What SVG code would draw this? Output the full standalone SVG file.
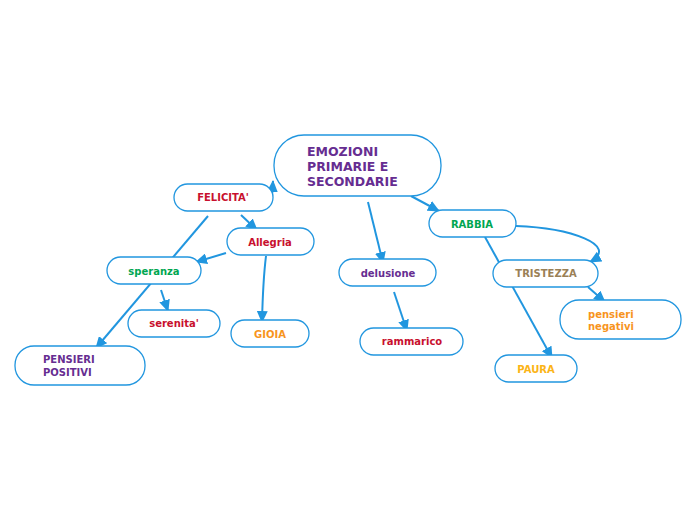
<svg xmlns="http://www.w3.org/2000/svg" width="696" height="520" viewBox="0 0 696 520">
<defs>
<style>
.n{fill:#fff;stroke:#2196df;stroke-width:1.3}
.c{fill:none;stroke:#2196df;stroke-width:2}
text{font-family:"DejaVu Sans",Verdana,sans-serif;font-weight:bold;font-size:10px}
.m{text-anchor:middle}
.big{font-size:12.5px}
</style>
<marker id="a" markerUnits="userSpaceOnUse" markerWidth="13" markerHeight="11" refX="11" refY="5.5" orient="auto">
<path d="M0,0 L12,5.5 L0,11 Z" fill="#2196df"/>
</marker>
</defs>
<rect width="696" height="520" fill="#fff"/>
<g id="connectors">
<path class="c" d="M272,197 L273,181" marker-end="url(#a)"/>
<path class="c" d="M241,215 L257,230" marker-end="url(#a)"/>
<path class="c" d="M208,216 L96,348" marker-end="url(#a)"/>
<path class="c" d="M226,253 L196,262" marker-end="url(#a)"/>
<path class="c" d="M161,290 L168,311" marker-end="url(#a)"/>
<path class="c" d="M266,256 Q263,280 262,322" marker-end="url(#a)"/>
<path class="c" d="M368,202 L383,263" marker-end="url(#a)"/>
<path class="c" d="M394,292 L407,331" marker-end="url(#a)"/>
<path class="c" d="M411,196 L439,211" marker-end="url(#a)"/>
<path class="c" d="M485,237 L552,358" marker-end="url(#a)"/>
<path class="c" d="M516,226 C570,228 620,245 590,262" marker-end="url(#a)"/>
<path class="c" d="M588,287 L605,302" marker-end="url(#a)"/>
</g>
<g id="emozioni"><rect class="n" x="274" y="135" width="167" height="61" rx="30"/>
<text class="big" x="307" y="156" fill="#662d91">EMOZIONI</text>
<text class="big" x="307" y="171" fill="#662d91">PRIMARIE E</text>
<text class="big" x="307" y="186" fill="#662d91">SECONDARIE</text></g>
<g id="felicita"><rect class="n" x="174" y="184" width="99" height="27" rx="13.5"/>
<text class="m" x="223" y="201" fill="#c8102e">FELICITA'</text></g>
<g id="allegria"><rect class="n" x="227" y="228" width="87" height="27" rx="13.5"/>
<text class="m" x="270" y="246" fill="#c8102e">Allegria</text></g>
<g id="speranza"><rect class="n" x="107" y="257" width="94" height="27" rx="13.5"/>
<text class="m" x="154" y="275" fill="#00a651">speranza</text></g>
<g id="serenita"><rect class="n" x="128" y="310" width="92" height="27" rx="13.5"/>
<text class="m" x="174" y="327" fill="#c8102e">serenita'</text></g>
<g id="gioia"><rect class="n" x="231" y="320" width="78" height="27" rx="13.5"/>
<text class="m" x="270" y="338" fill="#f7941d">GIOIA</text></g>
<g id="pensieri-positivi"><rect class="n" x="15" y="346" width="130" height="39" rx="19"/>
<text x="43" y="363" fill="#662d91">PENSIERI</text>
<text x="43" y="376" fill="#662d91">POSITIVI</text></g>
<g id="delusione"><rect class="n" x="339" y="259" width="97" height="27" rx="13.5"/>
<text class="m" x="388" y="277" fill="#662d91">delusione</text></g>
<g id="rammarico"><rect class="n" x="360" y="328" width="103" height="27" rx="13.5"/>
<text class="m" x="412" y="345" fill="#c8102e">rammarico</text></g>
<g id="rabbia"><rect class="n" x="429" y="210" width="87" height="27" rx="13.5"/>
<text class="m" x="472" y="228" fill="#00a651">RABBIA</text></g>
<g id="tristezza"><rect class="n" x="493" y="260" width="105" height="27" rx="13.5"/>
<text class="m" x="546" y="277" fill="#9a8056">TRISTEZZA</text></g>
<g id="pensieri-negativi"><rect class="n" x="560" y="300" width="121" height="39" rx="19"/>
<text x="588" y="318" fill="#f7941d">pensieri</text>
<text x="588" y="330" fill="#f7941d">negativi</text></g>
<g id="paura"><rect class="n" x="495" y="355" width="82" height="27" rx="13.5"/>
<text class="m" x="536" y="373" fill="#fbb417">PAURA</text></g>
</svg>
